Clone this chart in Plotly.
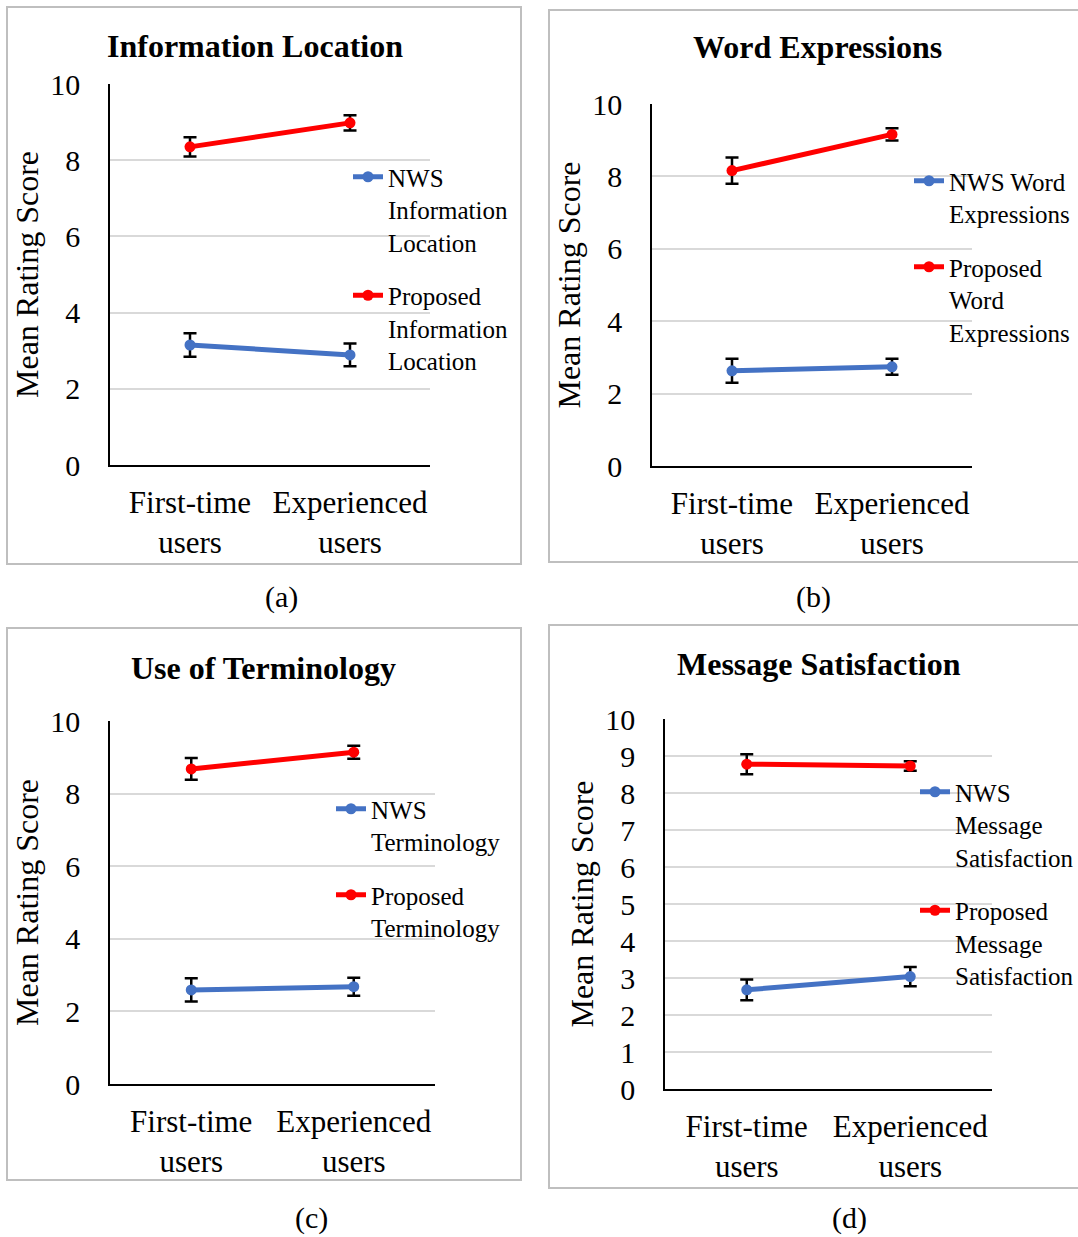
import plotly.graph_objects as go

W, H = 1078, 1237

categories = ["First-time<br>users", "Experienced<br>users"]

titles = ["Information Location", "Word Expressions", "Use of Terminology", "Message Satisfaction"]
captions = ["(a)", "(b)", "(c)", "(d)"]

nws_names = ["NWS<br>Information<br>Location", "NWS Word<br>Expressions",
             "NWS<br>Terminology", "NWS<br>Message<br>Satisfaction"]
prop_names = ["Proposed<br>Information<br>Location", "Proposed<br>Word<br>Expressions",
              "Proposed<br>Terminology", "Proposed<br>Message<br>Satisfaction"]

nws_means = [[3.15, 2.89], [2.63, 2.74], [2.59, 2.68], [2.68, 3.04]]
nws_err = [[0.31, 0.30], [0.33, 0.22], [0.32, 0.25], [0.28, 0.26]]
prop_means = [[8.35, 8.98], [8.16, 9.16], [8.68, 9.14], [8.78, 8.73]]
prop_err = [[0.25, 0.20], [0.36, 0.17], [0.30, 0.18], [0.27, 0.13]]

y_dtick = [2, 2, 2, 1]

# layout geometry in pixels (left, right, top, bottom) for each plot area
plot_px = [(110, 430, 84, 465), (652, 972, 104, 466), (110, 435, 721, 1084), (665, 992, 719, 1089)]
box_px = [(7, 521, 7, 564), (549, 1085, 10, 562), (7, 521, 628, 1180), (549, 1085, 625, 1188)]
title_px = [(255, 46), (817, 47), (263, 668), (819, 664)]
caption_px = [(281, 597), (813, 597), (311, 1218), (849, 1218)]
legend_px = [(348, 154), (909, 158), (331, 786), (915, 769)]

BLUE = "#4472C4"
RED = "#FF0000"
FONT = "Liberation Serif, Times New Roman, serif"

def px_x(v):
    return v / W

def px_y(v):
    return 1 - v / H

fig = go.Figure()
layout = dict(
    width=W, height=H, margin=dict(l=0, r=0, t=0, b=0, pad=0, autoexpand=False),
    paper_bgcolor="white", plot_bgcolor="white",
    font=dict(family=FONT, size=31, color="black"),
    shapes=[], annotations=[],
)

for i in range(4):
    sfx = "" if i == 0 else str(i + 1)
    leg = "legend" if i == 0 else f"legend{i + 1}"
    for name, means, errs, color, grp in [
        (nws_names[i], nws_means[i], nws_err[i], BLUE, "nws"),
        (prop_names[i], prop_means[i], prop_err[i], RED, "prop"),
    ]:
        fig.add_trace(go.Scatter(
            x=categories, y=means, name=name, mode="lines+markers",
            line=dict(color=color, width=5), marker=dict(color=color, size=11),
            error_y=dict(type="data", array=errs, visible=True, color="black", thickness=2.5, width=6.5),
            xaxis="x" + sfx, yaxis="y" + sfx, legend=leg, legendgroup=f"{grp}{i}",
        ))
    l, r, t, b = plot_px[i]
    layout["xaxis" + sfx] = dict(
        domain=[px_x(l), px_x(r)], anchor="y" + sfx, type="category",
        categoryorder="array", categoryarray=categories, range=[-0.5, 1.5],
        showgrid=False, showline=True, linecolor="black", linewidth=1.5,
        ticks="", tickfont=dict(size=31), ticklabelstandoff=9, zeroline=False,
        fixedrange=True, automargin=False,
    )
    layout["yaxis" + sfx] = dict(
        domain=[px_y(b), px_y(t)], anchor="x" + sfx, range=[0, 10], dtick=y_dtick[i],
        showgrid=True, gridcolor="#D9D9D9", gridwidth=2,
        showline=True, linecolor="black", linewidth=1.5, zeroline=False,
        ticks="", tickfont=dict(size=30), ticklabelstandoff=22,
        title=dict(text="Mean Rating Score", font=dict(size=32), standoff=2),
        fixedrange=True, automargin=False,
    )
    lx, ly = legend_px[i]
    layout[leg] = dict(
        x=px_x(lx), y=px_y(ly), xanchor="left", yanchor="top",
        xref="paper", yref="paper",
        font=dict(family=FONT, size=25), valign="top",
        tracegroupgap=18, bgcolor="rgba(0,0,0,0)", borderwidth=0,
        traceorder="grouped",
    )
    x0, x1, y0, y1 = box_px[i]
    layout["shapes"].append(dict(
        type="rect", xref="paper", yref="paper",
        x0=px_x(x0), x1=px_x(x1), y0=px_y(y1), y1=px_y(y0),
        line=dict(color="#BFBFBF", width=2), layer="below",
    ))
    tx, ty = title_px[i]
    layout["annotations"].append(dict(
        text=f"<b>{titles[i]}</b>", x=px_x(tx), y=px_y(ty), xref="paper", yref="paper",
        showarrow=False, xanchor="center", yanchor="middle",
        font=dict(family=FONT, size=32),
    ))
    cx, cy = caption_px[i]
    layout["annotations"].append(dict(
        text=captions[i], x=px_x(cx), y=px_y(cy), xref="paper", yref="paper",
        showarrow=False, xanchor="center", yanchor="middle",
        font=dict(family=FONT, size=30),
    ))

fig.update_layout(**layout)
fig.write_html("out.html", config={"displayModeBar": False},
               post_script="document.body.style.margin='0';document.body.style.overflow='hidden';")
